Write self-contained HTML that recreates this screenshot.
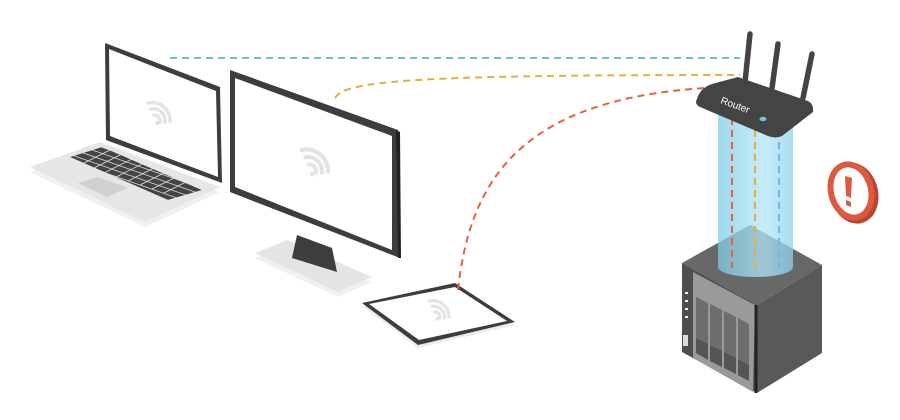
<!DOCTYPE html>
<html><head><meta charset="utf-8"><style>html,body{margin:0;padding:0;background:#fff}svg{display:block}</style></head>
<body>
<svg width="900" height="420" viewBox="0 0 900 420" xmlns="http://www.w3.org/2000/svg">
<defs>
<linearGradient id="cyl" x1="0" x2="1" y1="0" y2="0">
<stop offset="0" stop-color="#7fcbe6"/><stop offset="0.6" stop-color="#b4e6f8"/><stop offset="1" stop-color="#8dd3ee"/>
</linearGradient>
<clipPath id="kb"><polygon points="70,157 102,147 202,190 168,200"/></clipPath>
<g id="wifi" fill="none" stroke="#e3e3e3" stroke-linecap="round">
<path d="M-12,-10 A18,18 0 0 1 10,8" stroke-width="3.5"/>
<path d="M-9,-4 A12,12 0 0 1 5,9" stroke-width="3.5"/>
<path d="M-6,2 A6,6 0 0 1 0,9" stroke-width="3.5"/>
<circle cx="-3" cy="10" r="2" fill="#e3e3e3" stroke="none"/>
</g>
</defs>
<!-- laptop base -->
<polygon points="30,172 100,147 220,192 145,227" fill="#f0f0f0"/>
<polygon points="30,167 100,142 220,187 145,222" fill="#e6e6e6"/>
<g clip-path="url(#kb)">
<polygon points="70,157 102,147 202,190 168,200" fill="#444"/>
<g stroke="#e6e6e6" stroke-width="0.7">
<line x1="60" y1="157" x2="200" y2="206"/><line x1="66" y1="153" x2="206" y2="202"/><line x1="72" y1="149" x2="212" y2="198"/><line x1="78" y1="145" x2="218" y2="194"/><line x1="84" y1="141" x2="224" y2="190"/>
<line x1="80" y1="165" x2="110" y2="150"/><line x1="92" y1="169" x2="122" y2="154"/><line x1="104" y1="173" x2="134" y2="158"/><line x1="116" y1="177" x2="146" y2="162"/><line x1="128" y1="181" x2="158" y2="166"/><line x1="140" y1="185" x2="170" y2="170"/><line x1="152" y1="189" x2="182" y2="174"/><line x1="164" y1="193" x2="194" y2="178"/>
</g>
</g>
<polygon points="78,183 98,177 128,188 107,197" fill="#d0d0d0"/>
<!-- laptop screen -->
<polygon points="105,43 220,87 222,183 106,140" fill="#3d3d3d"/>
<polygon points="109,49 216,91 218,177 110,136" fill="#fff"/>
<use href="#wifi" transform="translate(160,113)"/>
<!-- monitor stand -->
<polygon points="255,258 287,245 372,282 338,297" fill="#f0f0f0"/>
<polygon points="255,253 287,240 372,277 338,292" fill="#e4e4e4"/>
<polygon points="297,235 332,248 337,272 292,258" fill="#3d3d3d"/>
<!-- monitor -->
<polygon points="230,70 398,130 400,258 230,192" fill="#3d3d3d"/>
<polygon points="396,130 400,132 401,258 398,258" fill="#222"/>
<polygon points="235,78 392,136 392,250 235,187" fill="#fff"/>
<use href="#wifi" transform="translate(316,162) scale(1.2)"/>
<!-- tablet -->
<polygon points="362,306 455,286 515,325 418,348" fill="#ececec"/>
<polygon points="362,303 455,283 515,322 418,345" fill="#3d3d3d"/>
<polygon points="369,304 455,287 507,321 419,340" fill="#fff"/>
<use href="#wifi" transform="translate(440,310) scale(0.9)"/>
<!-- connectors -->
<g fill="none" stroke-width="2" stroke-dasharray="7,5">
<line x1="170" y1="58" x2="740" y2="58" stroke="#6bbcd8"/>
<path d="M335,98 C345,80 420,75 740,75" stroke="#e8ae3a"/>
<path d="M458,290 C470,180 520,100 705,88" stroke="#e4633a"/>
</g>
<!-- NAS -->
<polygon points="682,263 750,225 822,265 757,305" fill="#686868"/>
<polygon points="682,263 757,305 757,393 682,352" fill="#4e4e4e"/>
<polygon points="757,305 822,265 822,353 757,393" fill="#595959"/>
<polygon points="693,272 755,305 753,392 693,358" fill="#9a9a9a"/>
<line x1="756" y1="305" x2="756" y2="393" stroke="#2a2020" stroke-width="3"/>
<g fill="#6e6e6e">
<polygon points="696,297 708,303 708,360 696,353"/>
<polygon points="710,304 722,310 722,367 710,361"/>
<polygon points="724,311 736,317 736,374 724,368"/>
<polygon points="738,318 749,324 749,381 738,375"/>
</g>
<g fill="#555">
<polygon points="696,338 708,344 708,360 696,353"/>
<polygon points="710,345 722,351 722,367 710,361"/>
<polygon points="724,352 736,358 736,374 724,368"/>
<polygon points="738,359 749,365 749,381 738,375"/>
</g>
<g fill="#eee"><rect x="685" y="292" width="3" height="2"/><rect x="685" y="300" width="3" height="2"/><rect x="685" y="308" width="3" height="2"/><rect x="685" y="316" width="3" height="2"/><rect x="683" y="335" width="5" height="11" fill="#ddd"/></g>
<!-- cylinder -->
<path d="M718,115 L793,115 L793,267 A37.5,10 0 0 1 718,267 Z" fill="url(#cyl)" opacity="0.75"/>
<g stroke-width="2" stroke-dasharray="7,5">
<line x1="732" y1="118" x2="732" y2="268" stroke="#e4633a"/>
<line x1="755" y1="118" x2="755" y2="268" stroke="#e8ae3a"/>
<line x1="779" y1="118" x2="779" y2="268" stroke="#6bbcd8"/>
</g>
<!-- router -->
<g stroke="#444" stroke-width="5.5" stroke-linecap="round">
<line x1="750" y1="34" x2="745" y2="82"/><line x1="778" y1="44" x2="772" y2="88"/><line x1="812" y1="54" x2="803" y2="98"/>
</g>
<path d="M697,99 Q700,88 712,84 L738,77 L808,101 Q814,104 813,112 L782,136 Q776,139 768,136 L700,107 Q694,104 697,99 Z" fill="#444"/>
<text x="720" y="103" transform="rotate(20 720 103)" fill="#fff" font-family="Liberation Sans, sans-serif" font-size="10">Router</text>
<ellipse cx="763" cy="119" rx="3.5" ry="2.2" fill="#6cc6e6"/>
<!-- warning -->
<ellipse cx="854" cy="193" rx="24" ry="31" fill="#b9452f" transform="rotate(-15 854 193)"/>
<ellipse cx="851" cy="191" rx="23" ry="30" fill="#dc5a40" transform="rotate(-15 851 191)"/>
<ellipse cx="851" cy="191" rx="17" ry="24" fill="#fff" transform="rotate(-15 851 191)"/>
<polygon points="845,176 852,178 851,198 846,196" fill="#dc5a40"/>
<polygon points="846,200 851,202 851,207 846,205" fill="#dc5a40"/>
</svg>
</body></html>
